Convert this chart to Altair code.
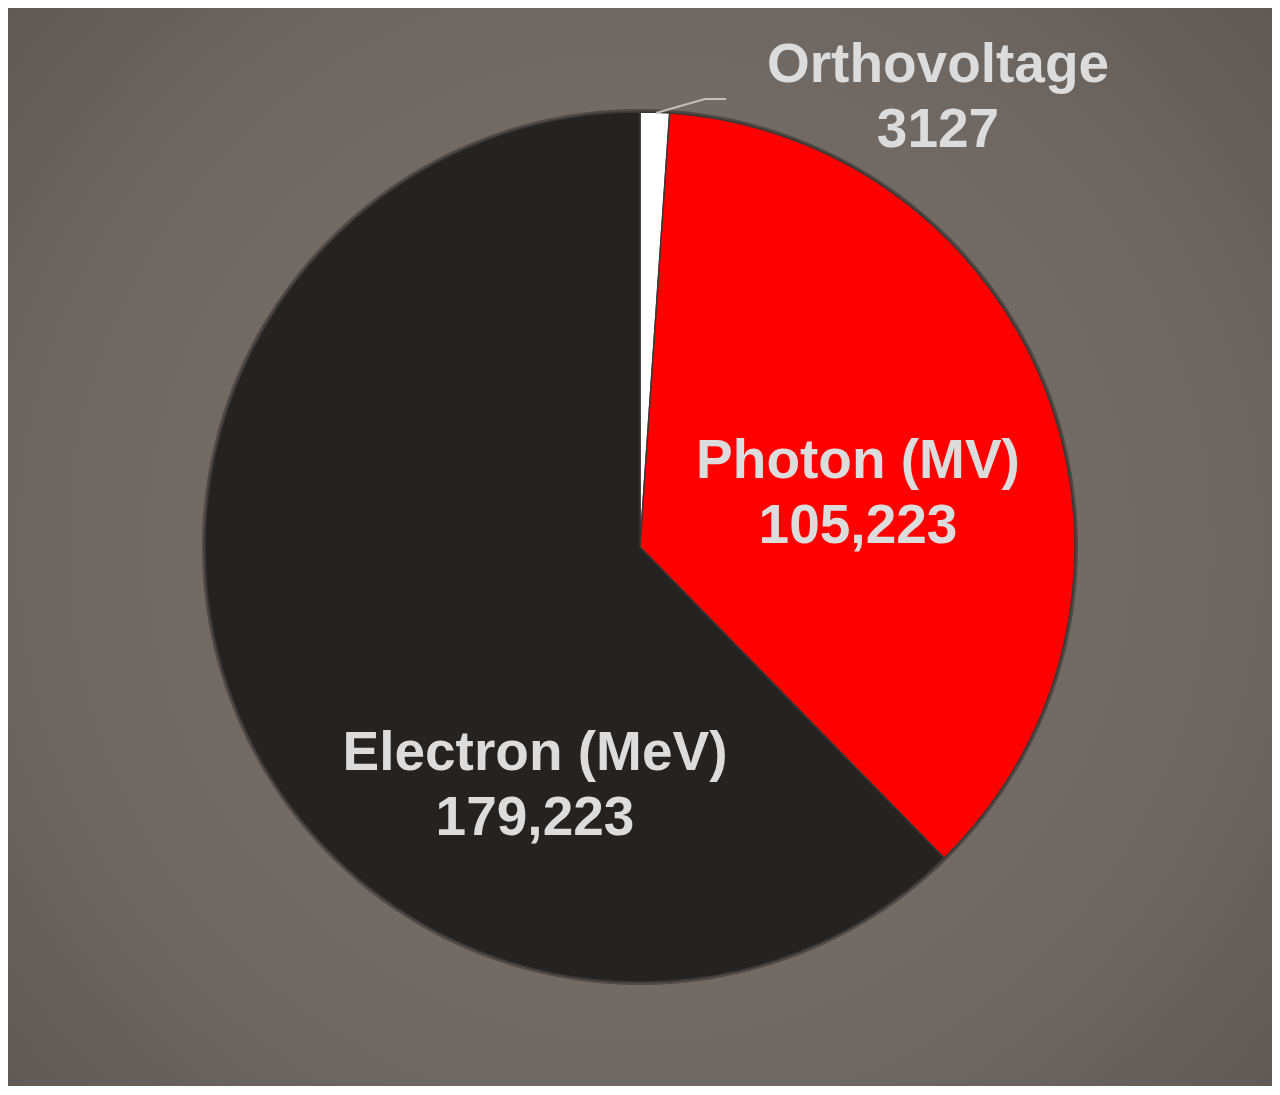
import altair as alt
import pandas as pd

categories = ["Orthovoltage", "Photon (MV)", "Electron (MeV)"]
values = [3127, 105223, 179223]
value_labels = ["3127", "105,223", "179,223"]
colors = ["#ffffff", "#ff0000", "#252321"]

df = pd.DataFrame({
    "category": categories,
    "value": values,
    "label": value_labels,
    "order": list(range(len(categories))),
})

W, H = 1264, 1078
R = 435

bg = alt.Chart(pd.DataFrame({"a": [0]})).mark_rect(
    fill=alt.Gradient(
        gradient="radial",
        stops=[alt.GradientStop(color="#7b736d", offset=0),
               alt.GradientStop(color="#6f6761", offset=0.6),
               alt.GradientStop(color="#5b534d", offset=1)],
        x1=0.5, y1=0.5, x2=0.5, y2=0.5, r1=0, r2=0.75,
    )
).encode(x=alt.value(0), x2=alt.value(W), y=alt.value(0), y2=alt.value(H))

base = alt.Chart(df).encode(
    theta=alt.Theta("value:Q", stack=True),
    order=alt.Order("order:Q"),
)

shadow = base.mark_arc(radius=R + 3, fill="#3a3430", opacity=0.6, dx=3, dy=5)

pie = base.mark_arc(radius=R, stroke="#3b3735", strokeWidth=1.5).encode(
    color=alt.Color("category:N", scale=alt.Scale(domain=categories, range=colors), legend=None)
)

leader = alt.Chart(pd.DataFrame({"a": [0]})).mark_line(
    color="#bfbab6", strokeWidth=2
).encode(x=alt.value(0), y=alt.value(0))

leader1 = alt.Chart(pd.DataFrame({"a": [0]})).mark_rule(color="#c4bfbb", strokeWidth=2).encode(
    x=alt.value(648), x2=alt.value(697), y=alt.value(105), y2=alt.value(91))
leader2 = alt.Chart(pd.DataFrame({"a": [0]})).mark_rule(color="#c4bfbb", strokeWidth=2).encode(
    x=alt.value(697), x2=alt.value(718), y=alt.value(91), y2=alt.value(91))

label_pos = {
    "Orthovoltage": (930, 74),
    "Photon (MV)": (850, 470),
    "Electron (MeV)": (527, 762),
}

texts = []
for cat, lab in zip(categories, value_labels):
    x, y = label_pos[cat]
    t = alt.Chart(pd.DataFrame({"t": [[cat, lab]]})).mark_text(
        font="Liberation Sans", fontWeight="bold", fontSize=55,
        color="#dcdcdc", align="center", baseline="alphabetic",
        lineHeight=65, x=x, y=y,
    ).encode(text="t")
    texts.append(t)

chart = alt.layer(bg, shadow, pie, leader1, leader2, *texts).properties(
    width=W, height=H, padding=0, autosize=alt.AutoSizeParams(type="none"),
    background="#6f6761",
).configure_view(stroke=None)

chart.save("out.html", embed_options={"renderer": "svg", "actions": False})
